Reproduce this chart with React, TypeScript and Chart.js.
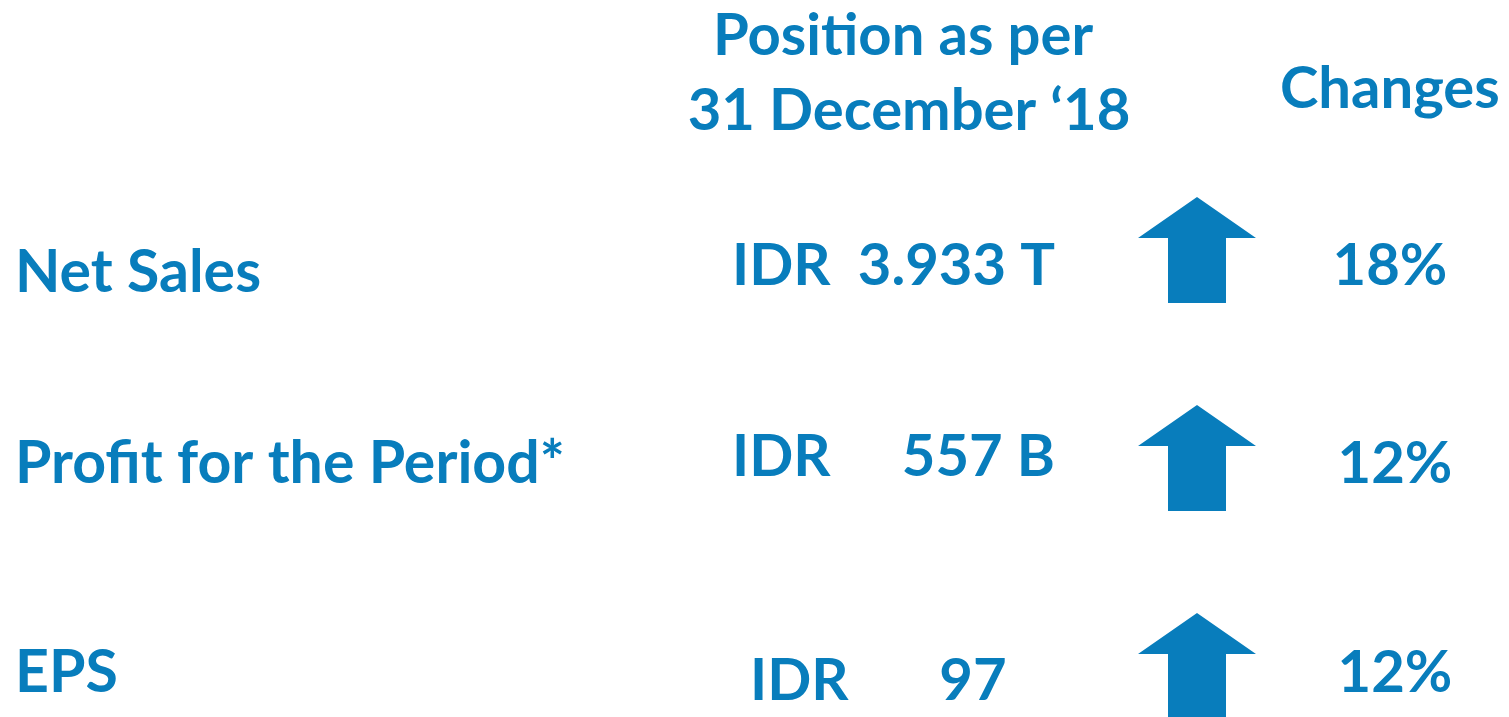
import React, { useEffect, useRef } from "react";
import { Chart, registerables } from "chart.js";

Chart.register(...registerables);

const metrics = ["Net Sales", "Profit for the Period*", "EPS"];
const currency = ["IDR", "IDR", "IDR"];
const positionValues = ["3.933 T", "557 B", "97"];
const changes = ["18%", "12%", "12%"];
const directions = [1, 1, 1];
const headerPosition = ["Position as per", "31 December \u201818"];
const headerChanges = "Changes";

const BLUE = "#087dbc";
const FONT = "Lato";

// layout (pixel offsets per row, relative to the arrow tip)
const labelDy = [95, 78, 79];
const idrDy = [88, 71, 87];
const changeDy = [88, 78, 79];
const idrLeft = [732, 732, 750];
const changeCenter = [1390, 1395, 1395];

const slidePlugin = {
  id: "slide",
  afterDraw(chart: any) {
    const ctx = chart.ctx;
    const xs = chart.scales.x;
    const ys = chart.scales.y;
    ctx.save();
    ctx.fillStyle = BLUE;
    ctx.textBaseline = "alphabetic";
    ctx.font = `700 58px ${FONT}`;
    // headers
    ctx.textAlign = "center";
    ctx.fillText(headerPosition[0], xs.getPixelForValue(903), 55);
    ctx.fillText(headerPosition[1], xs.getPixelForValue(909), 130);
    ctx.textAlign = "left";
    ctx.fillText(headerChanges, xs.getPixelForValue(1280), 108);

    metrics.forEach((m, i) => {
      const tip = ys.getPixelForValue(i);
      ctx.textAlign = "left";
      ctx.font = `700 59px ${FONT}`;
      ctx.fillText(m, xs.getPixelForValue(15), tip + labelDy[i]);
      ctx.font = `700 58px ${FONT}`;
      ctx.fillText(currency[i], xs.getPixelForValue(idrLeft[i]), tip + idrDy[i]);
      if (i === 2) {
        ctx.textAlign = "center";
        ctx.fillText(positionValues[i], xs.getPixelForValue(973), tip + idrDy[i]);
      } else {
        ctx.textAlign = "right";
        ctx.fillText(positionValues[i], xs.getPixelForValue(1055), tip + idrDy[i]);
      }
      ctx.textAlign = "center";
      ctx.fillText(changes[i], xs.getPixelForValue(changeCenter[i]), tip + changeDy[i]);

      // arrow
      const cx = xs.getPixelForValue(1197);
      const dir = directions[i];
      const headH = 41, headW = 59, shaftW = 29, total = 106;
      ctx.beginPath();
      if (dir > 0) {
        ctx.moveTo(cx, tip);
        ctx.lineTo(cx + headW, tip + headH);
        ctx.lineTo(cx + shaftW, tip + headH);
        ctx.lineTo(cx + shaftW, tip + total);
        ctx.lineTo(cx - shaftW, tip + total);
        ctx.lineTo(cx - shaftW, tip + headH);
        ctx.lineTo(cx - headW, tip + headH);
      } else {
        ctx.moveTo(cx, tip + total);
        ctx.lineTo(cx + headW, tip + total - headH);
        ctx.lineTo(cx + shaftW, tip + total - headH);
        ctx.lineTo(cx + shaftW, tip);
        ctx.lineTo(cx - shaftW, tip);
        ctx.lineTo(cx - shaftW, tip + total - headH);
        ctx.lineTo(cx - headW, tip + total - headH);
      }
      ctx.closePath();
      ctx.fill();
    });
    ctx.restore();
  },
};

export default function App() {
  const ref = useRef<HTMLCanvasElement | null>(null);
  useEffect(() => {
    if (!ref.current) return;
    const chart = new Chart(ref.current, {
      type: "scatter",
      data: {
        datasets: [
          {
            data: metrics.map((_, i) => ({ x: 1197, y: i })),
            pointRadius: 0,
            showLine: false,
          },
        ],
      },
      options: {
        animation: false,
        responsive: true,
        maintainAspectRatio: false,
        layout: { padding: 0 },
        plugins: { legend: { display: false }, tooltip: { enabled: false } },
        scales: {
          x: { type: "linear", min: 0, max: 1509, display: false },
          y: { type: "linear", min: -197 / 208, max: -197 / 208 + 717 / 208, reverse: true, display: false },
        },
      },
      plugins: [slidePlugin],
    });
    return () => chart.destroy();
  }, []);
  return (
    <div style={{ position: "fixed", left: 0, top: 0, width: 1509, height: 717, background: "#fff" }}>
      <canvas ref={ref} />
    </div>
  );
}
